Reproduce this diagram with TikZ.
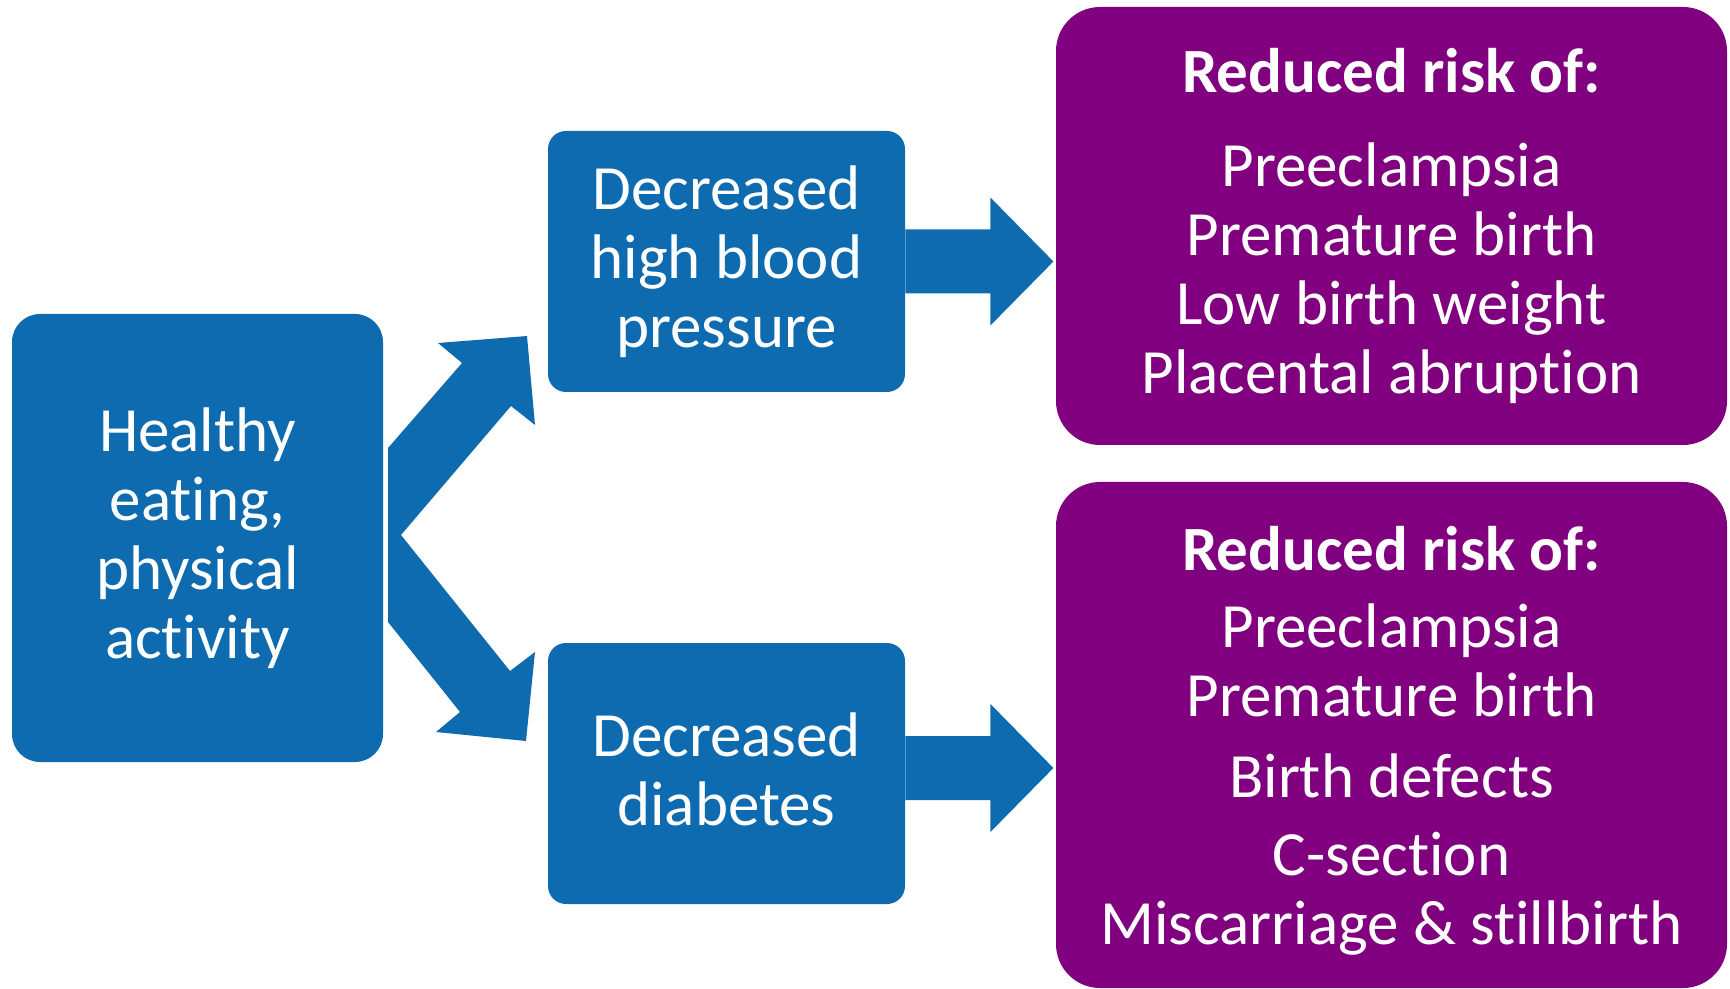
\documentclass[tikz,border=0pt]{standalone}
\usepackage{fontspec}
\setmainfont{Carlito}[RawFeature={-liga;-calt;-dlig;-clig}]
\usepackage{tikz}
\usepackage{xcolor}
\definecolor{flowblue}{RGB}{14,107,175}
\definecolor{riskpurple}{RGB}{128,0,128}

\begin{document}
\begin{tikzpicture}[x=0.5pt,y=-0.5pt,
    box/.style={rectangle, fill=#1, text=white, align=center, inner sep=0pt,
      font=\fontsize{31.5}{34.5}\selectfont},
    bluebox/.style={box=flowblue},
    riskbox/.style={box=riskpurple, rounded corners=22pt,
      minimum width=335.5pt}]
  \useasboundingbox (0,0) rectangle (1730,989);

  \node[bluebox, rounded corners=14pt, minimum width=185.5pt, minimum height=224pt]
    (health) at (197.5,538) {Healthy\\eating,\\physical\\activity};
  \node[bluebox, rounded corners=9pt, minimum width=178.5pt, minimum height=130.5pt]
    (bp) at (726.5,261.5) {Decreased\\high blood\\pressure};
  \node[bluebox, rounded corners=9pt, minimum width=178.5pt, minimum height=130.5pt]
    (dia) at (726.5,773.5) {Decreased\\diabetes\rule[-4.5pt]{0pt}{0pt}};

  \node[riskbox, minimum height=219pt] (riskbp) at (1391.5,226)
    {\textbf{Reduced risk of:}\\[12.5pt]Preeclampsia\\Premature birth\\Low birth weight\\Placental abruption};
  \node[riskbox, minimum height=253pt] (riskdia) at (1391.5,735)
    {\rule{0pt}{28pt}\textbf{Reduced risk of:}\\[3.9pt]Preeclampsia\\Premature birth\\[6pt]Birth defects\\[4.2pt]C-section\\[0pt]Miscarriage \& stillbirth};

  % split arrow out of the left box
  \fill[flowblue] (388,448) -- (462,363) -- (438,343) -- (527,336) -- (535,425) -- (511,406)
    -- (401,535) -- (510,671) -- (535,652) -- (526,741) -- (436,732) -- (460,712)
    -- (388,622) -- cycle;

  % block arrows to the risk boxes
  \fill[flowblue] (bp.east) ++(0,-32) -- ++(85,0) -- ++(0,-32) -- ++(63,64) -- ++(-63,64)
    -- ++(0,-32) -- ++(-85,0) -- cycle;
  \fill[flowblue] ([yshift=2.75pt]dia.east) ++(0,-32) -- ++(85,0) -- ++(0,-32) -- ++(63,64) -- ++(-63,64)
    -- ++(0,-32) -- ++(-85,0) -- cycle;
\end{tikzpicture}
\end{document}
